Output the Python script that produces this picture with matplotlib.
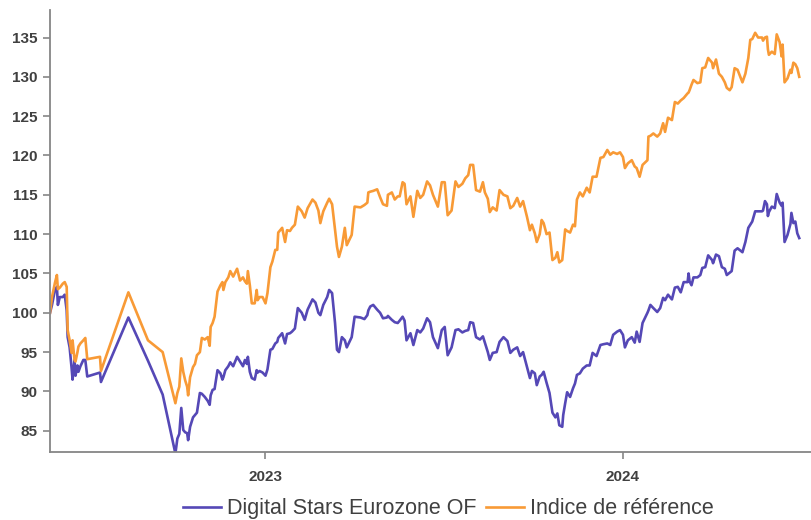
import pandas as pd
import matplotlib.pyplot as plt
import matplotlib.dates as mdates

# day offsets from the first valuation date
START = "2022-05-26"
days = [
    0, 2, 5, 7, 8, 10, 13, 15, 17, 18, 20, 22, 23, 25, 26, 28, 29, 31, 34, 36,
    38, 51, 52, 80, 100, 115, 128, 130, 132, 134, 136, 138, 140, 141, 143, 146,
    148, 150, 153, 155, 158, 161, 163, 164, 166, 168, 171, 174, 176, 177, 179,
    182, 184, 187, 191, 194, 197, 199, 201, 202, 204, 206, 209, 211, 212, 214,
    217, 220, 222, 225, 227, 230, 232, 233, 237, 240, 242, 245, 247, 250, 253,
    257, 260, 263, 268, 271, 274, 276, 279, 283, 285, 288, 291, 293, 295, 298,
    301, 303, 308, 311, 317, 321, 324, 325, 327, 330, 334, 337, 340, 344, 345,
    349, 352, 355, 357, 360, 362, 364, 368, 371, 375, 378, 381, 385, 388, 391,
    396, 400, 403, 406, 410, 414, 417, 421, 424, 427, 429, 432, 435, 439, 442,
    444, 447, 449, 452, 456, 459, 463, 467, 470, 473, 477, 480, 483, 487, 490,
    492, 495, 497, 500, 502, 504, 507, 510, 513, 516, 518, 520, 523, 524, 526,
    528, 531, 534, 536, 538, 541, 544, 548, 551, 554, 558, 562, 565, 569, 572,
    575, 579, 582, 585, 587, 590, 594, 597, 599, 602, 605, 610, 611, 613, 616,
    620, 623, 626, 628, 631, 635, 638, 641, 644, 647, 651, 652, 653, 655, 657,
    661, 664, 666, 669, 672, 676, 677, 680, 683, 686, 689, 691, 694, 696, 699,
    702, 707, 710, 713, 715, 717, 720, 723, 727, 728, 730, 732, 733, 734, 737,
    740, 742, 745, 747, 748, 750, 753, 756, 757, 759, 761, 763, 765,
]

fund = [
    100.0, 101.0, 102.9, 103.3, 101.0, 102.0, 102.0, 102.3, 100.3, 96.9, 95.6,
    93.0, 91.5, 94.0, 92.0, 93.3, 92.5, 93.2, 94.0, 94.0, 91.9, 92.4, 91.2,
    99.4, 93.9, 89.6, 82.1, 84.0, 84.6, 87.9, 85.1, 84.8, 84.7, 83.8, 85.5,
    86.7, 87.0, 87.3, 89.8, 89.7, 89.3, 88.8, 88.3, 89.5, 90.2, 90.3, 92.7,
    92.3, 91.5, 91.8, 92.7, 93.2, 93.7, 93.2, 94.4, 93.8, 93.2, 94.0, 93.5,
    94.4, 92.5, 91.7, 91.5, 92.7, 92.4, 92.6, 92.4, 92.0, 92.8, 95.3, 95.4,
    96.1, 96.3, 96.8, 97.4, 96.1, 97.3, 97.4, 97.6, 98.0, 100.6, 100.0, 99.1,
    100.4, 101.7, 101.3, 100.0, 99.7, 101.0, 102.0, 102.9, 102.5, 98.7, 95.3,
    95.0, 96.9, 96.5, 95.6, 96.9, 99.5, 99.4, 99.2, 99.7, 100.3, 100.8, 101.0,
    100.4, 100.0, 99.3, 99.4, 99.6, 99.1, 98.8, 98.7, 99.0, 99.5, 99.0, 96.5,
    97.4, 95.9, 97.8, 97.5, 98.0, 99.3, 98.8, 96.9, 95.5, 97.8, 98.2, 94.6,
    95.6, 97.8, 97.9, 97.5, 97.7, 97.8, 98.8, 98.7, 96.9, 96.6, 97.0, 96.2,
    95.0, 94.0, 94.9, 95.0, 96.3, 96.9, 96.4, 94.9, 95.3, 95.6, 94.5, 95.0,
    93.1, 91.7, 92.6, 92.3, 90.8, 91.9, 92.1, 92.5, 91.1, 89.8, 87.3, 86.7,
    87.2, 85.7, 85.5, 87.0, 88.5, 89.9, 89.3, 90.4, 91.0, 92.1, 92.3, 92.9,
    93.3, 93.3, 94.9, 94.5, 95.9, 96.0, 96.1, 95.9, 97.2, 97.6, 97.8, 97.2,
    95.6, 96.5, 96.9, 96.2, 97.6, 96.3, 98.7, 100.0, 100.3, 101.0, 100.6,
    100.1, 100.6, 101.9, 101.6, 102.3, 101.7, 103.2, 103.3, 102.6, 103.9,
    103.9, 105.0, 104.0, 103.5, 104.5, 104.5, 104.8, 105.7, 105.8, 107.3,
    106.7, 106.3, 107.4, 107.2, 105.8, 105.6, 104.8, 105.1, 105.3, 107.9,
    108.2, 107.7, 109.0, 110.8, 111.2, 111.6, 112.9, 112.9, 112.9, 113.0,
    114.2, 113.8, 112.3, 112.8, 113.5, 113.3, 115.1, 114.0, 113.6, 114.0,
    109.0, 109.9, 111.3, 112.7, 111.4, 111.6, 110.1, 109.5,
]

bench = [
    100.0, 102.0, 103.8, 104.8, 103.0, 103.2, 103.7, 103.9, 103.3, 97.8, 96.5,
    94.9, 96.5, 94.0, 93.8, 95.0, 95.7, 96.1, 96.5, 96.8, 94.1, 94.4, 92.6,
    102.6, 96.5, 95.0, 88.5, 89.8, 90.6, 94.2, 92.5, 91.4, 90.6, 89.5, 91.8,
    93.1, 93.5, 94.6, 95.0, 96.8, 96.6, 96.9, 95.8, 98.2, 98.7, 99.5, 102.7,
    103.5, 103.9, 102.9, 103.9, 104.5, 105.3, 104.6, 105.6, 104.1, 104.5,
    104.0, 103.7, 105.3, 103.5, 101.2, 101.2, 102.9, 101.6, 102.0, 102.0,
    101.2, 102.5, 105.8, 106.5, 108.0, 108.0, 110.2, 110.8, 109.0, 110.5,
    110.4, 110.8, 111.2, 113.5, 112.9, 112.1, 113.3, 114.4, 114.0, 113.0,
    111.4, 112.9, 114.0, 114.5, 113.8, 110.5, 108.4, 107.1, 108.4, 110.8,
    108.6, 109.9, 113.5, 113.4, 113.7, 114.0, 115.3, 115.4, 115.5, 115.7,
    114.7, 113.8, 113.6, 115.0, 115.3, 114.4, 114.8, 114.8, 116.6, 116.4,
    113.8, 114.8, 112.2, 115.5, 114.6, 115.0, 116.7, 116.2, 115.0, 113.5,
    116.6, 116.6, 112.4, 113.0, 116.7, 116.0, 116.4, 117.1, 117.5, 118.8,
    118.8, 115.6, 115.4, 116.6, 115.3, 114.5, 112.8, 113.4, 113.0, 115.6,
    115.0, 114.8, 113.3, 113.6, 114.6, 113.5, 114.2, 112.2, 110.5, 111.2,
    110.1, 109.0, 110.0, 111.8, 111.4, 110.0, 110.2, 106.7, 107.0, 107.7,
    106.4, 106.7, 108.0, 110.6, 110.4, 110.2, 111.2, 111.0, 114.4, 115.3,
    114.8, 115.9, 115.3, 117.3, 117.3, 119.7, 119.8, 120.7, 120.1, 120.4,
    120.2, 120.4, 119.8, 118.4, 119.0, 119.4, 118.6, 118.4, 117.3, 118.8,
    119.4, 122.4, 122.5, 122.8, 122.4, 122.8, 124.1, 123.0, 124.8, 124.5,
    126.8, 126.6, 127.0, 127.3, 127.9, 128.0, 128.3, 129.0, 129.6, 129.2,
    129.3, 131.1, 131.2, 132.4, 131.8, 131.1, 132.2, 130.4, 130.0, 129.3,
    128.6, 128.3, 128.7, 131.1, 130.9, 129.3, 130.4, 132.4, 134.7, 134.8,
    135.6, 135.0, 135.0, 134.6, 135.0, 135.1, 133.5, 132.8, 133.2, 132.9,
    135.4, 134.4, 132.6, 134.1, 129.3, 129.8, 130.9, 130.5, 131.8, 131.6,
    131.1, 130.0,
]

labels = ["Digital Stars Eurozone OF", "Indice de référence"]
colors = ["#5548b6", "#f89a36"]
yticks = [85, 90, 95, 100, 105, 110, 115, 120, 125, 130, 135]

dates = pd.Timestamp(START) + pd.to_timedelta(days, unit="D")

plt.rcParams['font.family'] = ['Liberation Sans', 'DejaVu Sans']

fig = plt.figure(figsize=(8.11, 5.20), dpi=100)
ax = fig.add_axes([0.0617, 0.1308, 0.9383, 0.8500])

ax.plot(dates, fund, color=colors[0], lw=1.9, label=labels[0])
ax.plot(dates, bench, color=colors[1], lw=1.9, label=labels[1])

ax.set_xlim(pd.Timestamp(START), pd.Timestamp(START) + pd.Timedelta(days=777))
ax.set_ylim(82.3, 138.5)
ax.set_yticks(yticks)
ax.xaxis.set_major_locator(mdates.YearLocator())
ax.xaxis.set_major_formatter(mdates.DateFormatter("%Y"))

for side in ["top", "right"]:
    ax.spines[side].set_visible(False)
for side in ["left", "bottom"]:
    ax.spines[side].set_color("#868686")
    ax.spines[side].set_linewidth(1.3)

ax.tick_params(axis="both", direction="out", length=5, width=1.2,
               color="#868686", labelcolor="#404040", labelsize=11)
ax.tick_params(axis="y", pad=4)
ax.tick_params(axis="x", pad=8)
for lab in ax.get_xticklabels() + ax.get_yticklabels():
    lab.set_fontweight("bold")

fig.legend(loc="center", bbox_to_anchor=(0.553, 0.022), ncol=2, frameon=False,
           fontsize=15.5, handlelength=1.75, handletextpad=0.3,
           columnspacing=0.45, borderaxespad=0, borderpad=0,
           labelcolor="#404040")

fig.savefig("out.png", dpi=100)
